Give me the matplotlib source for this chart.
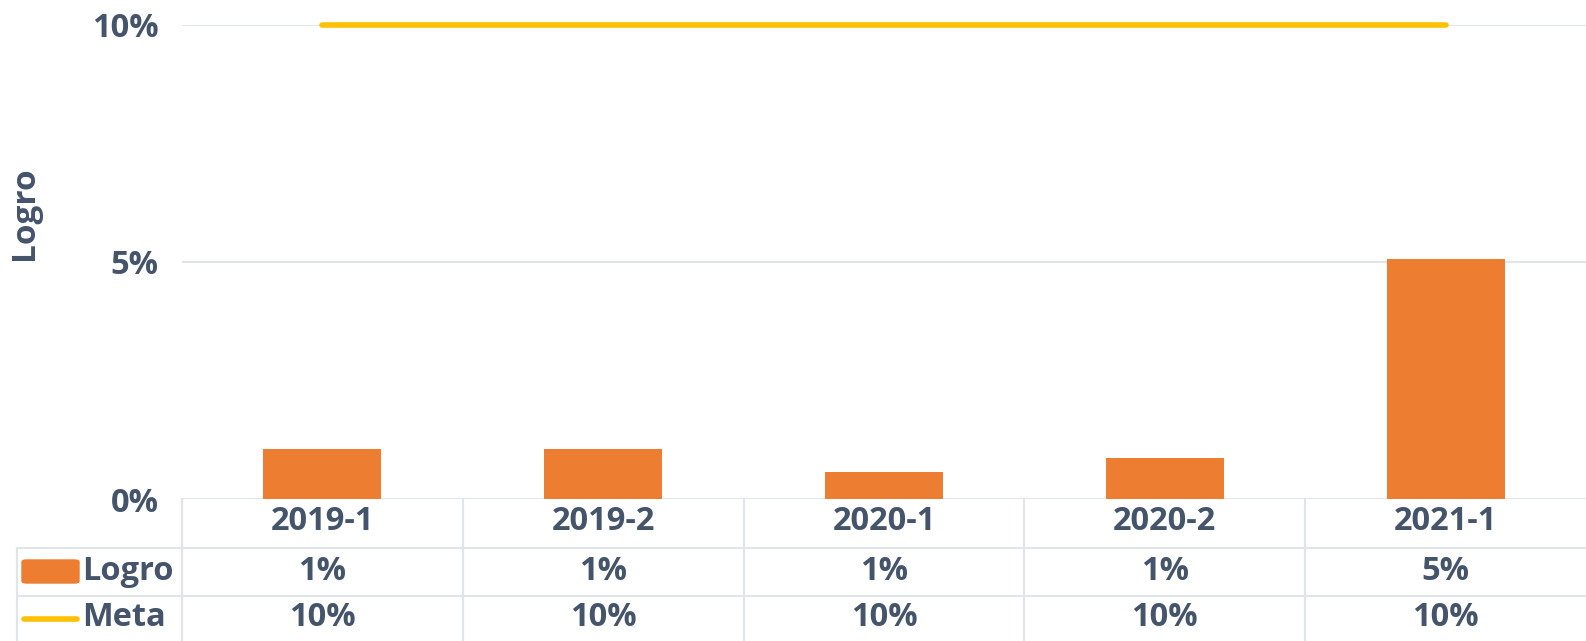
import matplotlib.pyplot as plt
import matplotlib.transforms as mtransforms
from matplotlib.patches import FancyBboxPatch
from matplotlib.lines import Line2D

# 数据
periodos = ['2019-1', '2019-2', '2020-1', '2020-2', '2021-1']
logro = [1.05, 1.05, 0.57, 0.86, 5.05]
meta = [10, 10, 10, 10, 10]
y_ticks = [0, 5, 10]

NARANJA = '#ED7D31'
AMARILLO = '#FFC000'
TEXTO = '#44546A'
GRID = '#E1E5EA'
FS = 23.5

plt.rcParams['font.family'] = ['Open Sans', 'DejaVu Sans']
plt.rcParams['font.weight'] = 'bold'

W, H = 1586, 641
fig = plt.figure(figsize=(W / 100, H / 100), dpi=100)
ax = fig.add_axes([182 / W, 1 - 499 / H, 1 - 182 / W, (499 - 24.7) / H])

x = list(range(len(periodos)))
ax.bar(x, logro, width=0.42, color=NARANJA, zorder=2)
ax.plot(x, meta, color=AMARILLO, lw=4, solid_capstyle='round', zorder=3, clip_on=False)

ax.set_xlim(-0.5, len(periodos) - 0.5)
ax.set_ylim(0, 10)
ax.set_yticks(y_ticks)
ax.set_yticklabels([f'{v}%' for v in y_ticks], fontsize=FS, color=TEXTO, fontweight='bold')
ax.tick_params(axis='y', length=0, pad=17)
ax.set_xticks([])
for s in ax.spines.values():
    s.set_visible(False)
ax.grid(axis='y', color=GRID, lw=1.5, zorder=0)
ax.set_axisbelow(True)

fig.text(25 / W, 1 - 213 / H, 'Logro', rotation=90, ha='center', va='center',
         fontsize=24, color=TEXTO, fontweight='bold')

# 数据表
tr = mtransforms.blended_transform_factory(ax.transData, fig.transFigure)
fy = lambda p: 1 - p / H
row_c = [522, 571, 618]
for i, p in enumerate(periodos):
    ax.text(i, fy(row_c[0]), p, transform=tr, ha='center', va='center',
            fontsize=FS, color=TEXTO, fontweight='bold')
    ax.text(i, fy(row_c[1]), f'{round(logro[i])}%', transform=tr, ha='center', va='center',
            fontsize=FS, color=TEXTO, fontweight='bold')
    ax.text(i, fy(row_c[2]), f'{meta[i]}%', transform=tr, ha='center', va='center',
            fontsize=FS, color=TEXTO, fontweight='bold')

ftr = fig.transFigure
for yp in [548, 596]:
    fig.add_artist(Line2D([17 / W, 1], [fy(yp), fy(yp)], color=GRID, lw=1.5, transform=ftr))
fig.add_artist(Line2D([17 / W, 17 / W], [fy(548), 0], color=GRID, lw=1.5, transform=ftr))
for k in range(len(periodos)):
    ax.add_line(Line2D([k - 0.5, k - 0.5], [fy(499), 0], color=GRID, lw=1.5,
                       transform=tr, clip_on=False))

# 图例
fig.add_artist(FancyBboxPatch((22 / W, fy(583)), 57 / W, 23 / H,
                              boxstyle='round,pad=0,rounding_size=0.003',
                              color=NARANJA, transform=ftr))
fig.text(82 / W, fy(571), 'Logro', ha='left', va='center', fontsize=FS,
         color=TEXTO, fontweight='bold')
fig.add_artist(Line2D([24 / W, 77 / W], [fy(619), fy(619)], color=AMARILLO, lw=4,
                      solid_capstyle='round', transform=ftr))
fig.text(82 / W, fy(618), 'Meta', ha='left', va='center', fontsize=FS,
         color=TEXTO, fontweight='bold')

fig.savefig('out.png', dpi=100)
